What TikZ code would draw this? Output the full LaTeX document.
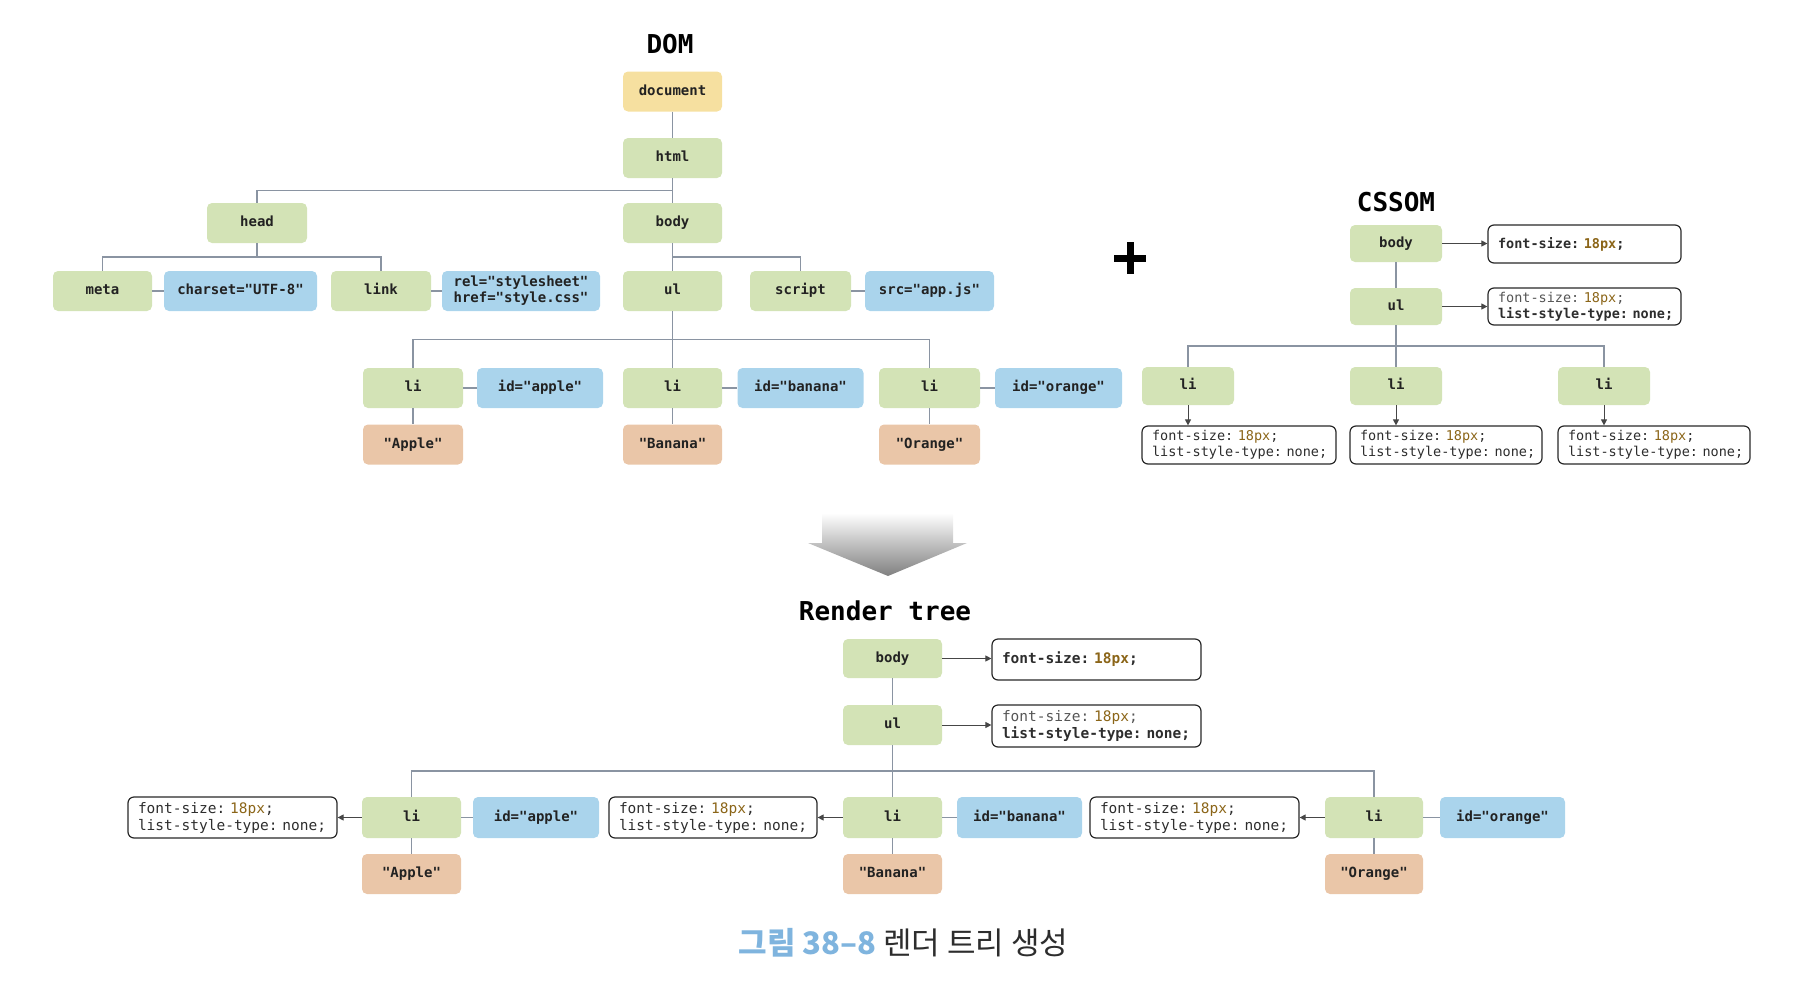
\documentclass[tikz,border=0pt]{standalone}
\usepackage{fontspec}
\setmonofont{DejaVu Sans Mono}
\newfontfamily\krfont{Noto Sans CJK KR}
\usetikzlibrary{calc,arrows.meta}
\definecolor{cgreen}{RGB}{211,227,182}
\definecolor{cblue}{RGB}{170,212,236}
\definecolor{cyellow}{RGB}{246,224,160}
\definecolor{corange}{RGB}{234,198,168}
\definecolor{cline}{RGB}{138,148,162}
\definecolor{cbrown}{RGB}{139,101,24}
\definecolor{ctext}{RGB}{34,34,34}
\definecolor{ctext2}{RGB}{45,45,45}
\definecolor{ctext3}{RGB}{85,85,85}
\definecolor{cborder}{RGB}{40,40,40}
\definecolor{carrow}{RGB}{70,70,70}
\definecolor{capblue}{RGB}{127,180,222}
\newcommand{\pxv}{\textcolor{cbrown}{18px}}
\begin{document}
\begin{tikzpicture}[x=1pt,y=-1pt,
  base/.style={rounded corners=5pt, inner sep=0pt, font=\ttfamily\bfseries\fontsize{14}{16}\selectfont, text=ctext},
  lblbox/.style={base, text height=10pt, text depth=3pt, minimum height=40pt, minimum width=#1},
  gnode/.style={lblbox=#1, fill=cgreen},
  bnode/.style={lblbox=#1, fill=cblue},
  ynode/.style={lblbox=#1, fill=cyellow},
  onode/.style={lblbox=#1, fill=corange},
  conn/.style={draw=cline, line width=1.2pt},
  arr/.style={draw=carrow, line width=1pt, -{Triangle[length=6pt,width=6pt]}},
  cssS/.style={draw=cborder, line width=1.2pt, rounded corners=6pt, inner xsep=10pt, inner ysep=0pt, align=left, text=ctext2, text width=#1, font=\ttfamily\fontsize{13.5}{16}\selectfont, minimum height=38pt},
  cssL/.style={cssS=#1, font=\ttfamily\fontsize{14.5}{17}\selectfont, minimum height=41pt},
  ttl/.style={inner sep=0pt, font=\ttfamily\bfseries\fontsize{26}{30}\selectfont, text=black}
]
\useasboundingbox (0,0) rectangle (1808,988);

% ---------------- DOM ----------------
\node[ttl] (domt) at (670,44) {DOM};
\node[ynode=99pt] (doc) at (672.5,91.5) {document};
\node[gnode=99pt] (html) at (672.5,158) {html};
\node[gnode=99pt] (dbody) at (672.5,223) {body};
\node[gnode=100pt] (head) at (257,223) {head};
\node[gnode=99pt] (meta) at (102.5,291) {meta};
\node[bnode=153pt] (charset) at (240.5,291) {charset="UTF-8"};
\node[gnode=100pt] (link) at (381,291) {link};
\node[base, fill=cblue, minimum width=158pt, minimum height=40pt, align=left] (rel) at (521,291) {rel="stylesheet"\\href="style.css"};
\node[gnode=99pt] (dul) at (672.5,291) {ul};
\node[gnode=101pt] (script) at (800.5,291) {script};
\node[bnode=129pt] (src) at (929.5,291) {src="app.js"};
\node[gnode=100pt] (dli1) at (413,388) {li};
\node[bnode=126pt] (did1) at (540,388) {id="apple"};
\node[gnode=99pt] (dli2) at (672.5,388) {li};
\node[bnode=126pt] (did2) at (800.5,388) {id="banana"};
\node[gnode=101pt] (dli3) at (929.5,388) {li};
\node[bnode=127pt] (did3) at (1058.5,388) {id="orange"};
\node[onode=100pt] (dt1) at (413,444.5) {"Apple"};
\node[onode=99pt] (dt2) at (672.5,444.5) {"Banana"};
\node[onode=101pt] (dt3) at (929.5,444.5) {"Orange"};

\draw[conn] (doc.south) -- (html.north);
\draw[conn] (html.south) -- (dbody.north);
\coordinate (b1) at ($(html.south)!0.5!(dbody.north)$);
\draw[conn] (head.north) |- (b1);
\coordinate (b2) at ($(head.south)!0.5!(head.south |- meta.north)$);
\draw[conn] (head.south) -- (b2);
\draw[conn] (meta.north) |- (b2) -| (link.north);
\draw[conn] (meta.east) -- (charset.west);
\draw[conn] (link.east) -- (rel.west);
\coordinate (b3) at ($(dbody.south)!0.5!(dul.north)$);
\draw[conn] (dbody.south) -- (dul.north);
\draw[conn] (b3) -| (script.north);
\draw[conn] (script.east) -- (src.west);
\coordinate (b4) at ($(dul.south)!0.5!(dli2.north)$);
\draw[conn] (dul.south) -- (dli2.north);
\draw[conn] (dli1.north) |- (b4) -| (dli3.north);
\foreach \i in {1,2,3}{
  \draw[conn] (dli\i.east) -- (did\i.west);
  \draw[conn] (dli\i.south) -- (dt\i.north);
}

% ---------------- plus ----------------
\fill[black] (1114,254.5) rectangle (1146,261.5);
\fill[black] (1126.5,242) rectangle (1133.5,274);

% ---------------- CSSOM ----------------
\node[ttl] (cssomt) at (1396,202.5) {CSSOM};
\node[gnode=92pt, minimum height=37pt] (cbody) at (1396,243.5) {body};
\node[cssS=173pt, font=\ttfamily\bfseries\fontsize{13.5}{16}\selectfont] (cbs) at (1584.5,244) {font-size:~\pxv;};
\node[gnode=92pt, minimum height=37pt] (cul) at (1396,306.5) {ul};
\node[cssS=173pt, minimum height=37pt] (culs) at (1584.5,306.5) {{\color{ctext3}font-size:~\pxv;}\\\textbf{list-style-type:~none;}};
\node[gnode=92pt, minimum height=38pt] (cli1) at (1188,386) {li};
\node[gnode=92pt, minimum height=38pt] (cli2) at (1396,386) {li};
\node[gnode=92pt, minimum height=38pt] (cli3) at (1604,386) {li};
\node[cssS=174pt] (cs1) at (1239,445) {font-size:~\pxv;\\list-style-type:~none;};
\node[cssS=172pt] (cs2) at (1446,445) {font-size:~\pxv;\\list-style-type:~none;};
\node[cssS=172pt] (cs3) at (1654,445) {font-size:~\pxv;\\list-style-type:~none;};

\draw[conn] (cbody.south) -- (cul.north);
\coordinate (b5) at ($(cul.south)!0.5!(cli2.north)$);
\draw[conn] (cul.south) -- (cli2.north);
\draw[conn] (cli1.north) |- (b5) -| (cli3.north);
\draw[arr] (cbody.east) -- (cbody.east -| cbs.west);
\draw[arr] (cul.east) -- (cul.east -| culs.west);
\foreach \i in {1,2,3}{
  \draw[arr] (cli\i.south) -- (cli\i.south |- cs\i.north);
}

% ---------------- big arrow ----------------
\shade[top color=white, bottom color=black!50] (822,513) -- (953,513) -- (953,543) -- (967,543) -- (888,576) -- (808,543) -- (822,543) -- cycle;

% ---------------- Render tree ----------------
\node[ttl] (rtt) at (885,611) {Render tree};
\node[gnode=99pt, minimum height=39pt] (rbody) at (892.5,658.5) {body};
\node[cssL=189pt, font=\ttfamily\bfseries\fontsize{14.5}{17}\selectfont] (rbs) at (1096.5,659.5) {font-size:~\pxv;};
\node[gnode=99pt] (rul) at (892.5,725) {ul};
\node[cssL=189pt, minimum height=42pt] (ruls) at (1096.5,726) {{\color{ctext3}font-size:~\pxv;}\\\textbf{list-style-type:~none;}};
\node[gnode=99pt, minimum height=41pt] (rli1) at (411.5,817.5) {li};
\node[bnode=126pt, minimum height=41pt] (rid1) at (536,817.5) {id="apple"};
\node[cssL=189pt] (rs1) at (232.5,817.5) {font-size:~\pxv;\\list-style-type:~none;};
\node[cssL=188pt] (rs2) at (713,817.5) {font-size:~\pxv;\\list-style-type:~none;};
\node[gnode=99pt, minimum height=41pt] (rli2) at (892.5,817.5) {li};
\node[bnode=125pt, minimum height=41pt] (rid2) at (1019.5,817.5) {id="banana"};
\node[cssL=189pt] (rs3) at (1194.5,817.5) {font-size:~\pxv;\\list-style-type:~none;};
\node[gnode=98pt, minimum height=41pt] (rli3) at (1374,817.5) {li};
\node[bnode=125pt, minimum height=41pt] (rid3) at (1502.5,817.5) {id="orange"};
\node[onode=99pt] (rt1) at (411.5,874) {"Apple"};
\node[onode=99pt] (rt2) at (892.5,874) {"Banana"};
\node[onode=98pt] (rt3) at (1374,874) {"Orange"};

\draw[conn] (rbody.south) -- (rul.north);
\coordinate (b6) at ($(rul.south)!0.5!(rli2.north)$);
\draw[conn] (rul.south) -- (rli2.north);
\draw[conn] (rli1.north) |- (b6) -| (rli3.north);
\draw[arr] (rbody.east) -- (rbody.east -| rbs.west);
\draw[arr] (rul.east) -- (rul.east -| ruls.west);
\foreach \i in {1,2,3}{
  \draw[conn] (rli\i.east) -- (rid\i.west);
  \draw[conn] (rli\i.south) -- (rt\i.north);
  \draw[arr] (rli\i.west) -- (rli\i.west -| rs\i.east);
}

% ---------------- caption ----------------
\node[inner sep=0pt] (cap) at (903.5,943) {\krfont\fontsize{31}{36}\selectfont{\bfseries\color{capblue}그림 38–8} {\color{ctext2}렌더 트리 생성}};
\end{tikzpicture}
\end{document}
